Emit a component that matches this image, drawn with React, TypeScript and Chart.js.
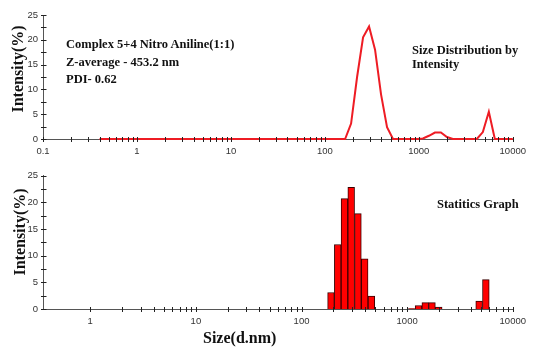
import React, { useEffect, useRef } from "react";
import { Chart, registerables } from "chart.js";
Chart.register(...registerables);

// ---- data ----
// Size distribution by intensity (line, top panel)
const lineSizes = [0.4, 164.2, 190.1, 220.2, 255.0, 295.3, 342.0, 396.1, 458.7, 531.2, 955.4, 1106, 1281, 1484, 1718, 1990, 2305, 4145, 4801, 5560, 6439, 10000];
const lineIntensity = [0, 0, 3.1, 12.5, 20.5, 22.7, 18.0, 9.0, 2.4, 0, 0, 0.1, 0.65, 1.3, 1.3, 0.4, 0, 0, 1.4, 5.5, 0, 0];

// Statistics graph (histogram, bottom panel)
const barSizes = [190.1, 220.2, 255.0, 295.3, 342.0, 396.1, 458.7, 1106, 1281, 1484, 1718, 1990, 4801, 5560];
const barIntensity = [3.1, 12.1, 20.7, 22.8, 17.9, 9.4, 2.4, 0.1, 0.65, 1.2, 1.2, 0.35, 1.5, 5.5];

// axes
const topXMajor = [0.1, 1, 10, 100, 1000, 10000];
const bottomXMajor = [1, 10, 100, 1000, 10000];
const minorMultipliers = [2, 3, 4, 5, 6, 7, 8, 9];
const yMajor = [0, 5, 10, 15, 20, 25];
const yStep = 2.5;

const TICK_FONT = { family: '"Liberation Sans", Arial, sans-serif', size: 9.5 };
const TICK_COLOR = "#333";
const AXIS_COLOR = "#555";
const SERIF = '"Liberation Serif", "Times New Roman", serif';

function logTicks(majors: number[]) {
  const vals: number[] = [];
  majors.forEach((m, i) => {
    vals.push(m);
    if (i < majors.length - 1) minorMultipliers.forEach((k) => vals.push(m * k));
  });
  return vals.sort((a, b) => a - b);
}

const crossTicks = {
  id: "crossTicks",
  afterDraw(chart: any, _args: any, opts: any) {
    const { ctx, chartArea } = chart;
    const xs = chart.scales.x;
    const ys = chart.scales.y;
    ctx.save();
    ctx.strokeStyle = "#222";
    ctx.lineWidth = 1;
    ctx.beginPath();
    const yb = Math.round(chartArea.bottom) + 0.5;
    for (const v of opts.xTicks as number[]) {
      const px = Math.round(xs.getPixelForValue(v)) + 0.5;
      ctx.moveTo(px, yb - 2.5);
      ctx.lineTo(px, yb + 2.5);
    }
    const xl = Math.round(chartArea.left) + 0.5;
    for (const t of ys.ticks) {
      const py = Math.round(ys.getPixelForValue(t.value)) + 0.5;
      ctx.moveTo(xl - 2.5, py);
      ctx.lineTo(xl + 3, py);
    }
    ctx.stroke();
    ctx.restore();
  },
};

function yScale() {
  return {
    type: "linear",
    min: 0,
    max: 25,
    afterFit: (s: any) => {
      s.width = 43;
    },
    afterBuildTicks: (s: any) => {
      const t: any[] = [];
      for (let v = 0; v <= 25 + 1e-9; v += yStep) t.push({ value: v });
      s.ticks = t;
    },
    grid: { display: false, drawTicks: false },
    border: { display: true, color: AXIS_COLOR, width: 1 },
    ticks: {
      font: TICK_FONT,
      color: TICK_COLOR,
      padding: 5,
      autoSkip: false,
      callback: (v: number) => (yMajor.includes(v) ? String(v) : ""),
    },
  };
}

function xScale(min: number, max: number, majors: number[], height: number) {
  return {
    type: "logarithmic",
    min,
    max,
    offset: false,
    afterFit: (s: any) => {
      s.height = height;
    },
    afterBuildTicks: (s: any) => {
      s.ticks = majors.map((v) => ({ value: v, major: true }));
    },
    grid: { display: false, drawTicks: false, offset: false },
    border: { display: true, color: AXIS_COLOR, width: 1 },
    ticks: {
      font: TICK_FONT,
      color: TICK_COLOR,
      padding: 7,
      autoSkip: false,
      maxRotation: 0,
      callback: (v: number) => String(v),
    },
  };
}

function TopChart() {
  const ref = useRef<HTMLCanvasElement>(null);
  useEffect(() => {
    const chart = new Chart(ref.current as HTMLCanvasElement, {
      type: "line",
      data: {
        datasets: [
          {
            data: lineSizes.map((s, i) => ({ x: s, y: lineIntensity[i] })),
            borderColor: "#ee1c24",
            borderWidth: 2,
            pointRadius: 0,
            tension: 0,
            clip: false,
            fill: false,
          } as any,
        ],
      },
      options: {
        responsive: false,
        animation: false,
        devicePixelRatio: 1,
        layout: { padding: { top: 15, right: 15, bottom: 0, left: 0 } },
        plugins: {
          legend: { display: false },
          tooltip: { enabled: false },
          crossTicks: { xTicks: logTicks(topXMajor) },
        } as any,
        scales: {
          x: xScale(0.1, 10000, topXMajor, 26) as any,
          y: yScale() as any,
        },
      },
      plugins: [crossTicks],
    });
    return () => chart.destroy();
  }, []);
  return <canvas ref={ref} width={533} height={165} style={{ position: "absolute", left: 0, top: 0 }} />;
}

function BottomChart() {
  const ref = useRef<HTMLCanvasElement>(null);
  useEffect(() => {
    const chart = new Chart(ref.current as HTMLCanvasElement, {
      type: "bar",
      data: {
        datasets: [
          {
            data: barSizes.map((s, i) => ({ x: s, y: barIntensity[i] })),
            backgroundColor: "#ff0000",
            borderColor: "#3a0000",
            borderWidth: 1,
            barPercentage: 1,
            categoryPercentage: 1,
            grouped: false,
          } as any,
        ],
      },
      options: {
        responsive: false,
        animation: false,
        devicePixelRatio: 1,
        layout: { padding: { top: 9, right: 15, bottom: 0, left: 0 } },
        plugins: {
          legend: { display: false },
          tooltip: { enabled: false },
          crossTicks: { xTicks: logTicks(bottomXMajor) },
        } as any,
        scales: {
          x: xScale(0.357, 10000, bottomXMajor, 38) as any,
          y: yScale() as any,
        },
      },
      plugins: [crossTicks],
    });
    return () => chart.destroy();
  }, []);
  return <canvas ref={ref} width={533} height={182} style={{ position: "absolute", left: 0, top: 165 }} />;
}

const textStyle = (size: number, left: number, top: number): React.CSSProperties => ({
  position: "absolute",
  left,
  top,
  fontFamily: SERIF,
  fontWeight: "bold",
  fontSize: size,
  lineHeight: `${size}px`,
  color: "#111",
  whiteSpace: "nowrap",
});

const rotStyle = (cx: number, cy: number): React.CSSProperties => ({
  position: "absolute",
  left: cx,
  top: cy,
  fontFamily: SERIF,
  fontWeight: "bold",
  fontSize: 16,
  lineHeight: "16px",
  color: "#111",
  whiteSpace: "nowrap",
  transform: "translate(-50%, -50%) rotate(-90deg)",
});

export default function App() {
  return (
    <div style={{ position: "absolute", left: 0, top: 0, width: 533, height: 347, background: "#fff", overflow: "hidden" }}>
      <TopChart />
      <BottomChart />
      <div style={textStyle(12.5, 66, 38)}>Complex 5+4 Nitro Aniline(1:1)</div>
      <div style={textStyle(12.5, 66, 56)}>Z-average - 453.2 nm</div>
      <div style={textStyle(12.5, 66, 73)}>PDI- 0.62</div>
      <div style={textStyle(12.5, 412, 44)}>Size Distribution by</div>
      <div style={textStyle(12.5, 412, 58)}>Intensity</div>
      <div style={textStyle(12.5, 437, 198)}>Statitics Graph</div>
      <div style={textStyle(16, 203, 330)}>Size(d.nm)</div>
      <div style={rotStyle(17.6, 69)}>Intensity(%)</div>
      <div style={rotStyle(20, 231.5)}>Intensity(%)</div>
    </div>
  );
}
